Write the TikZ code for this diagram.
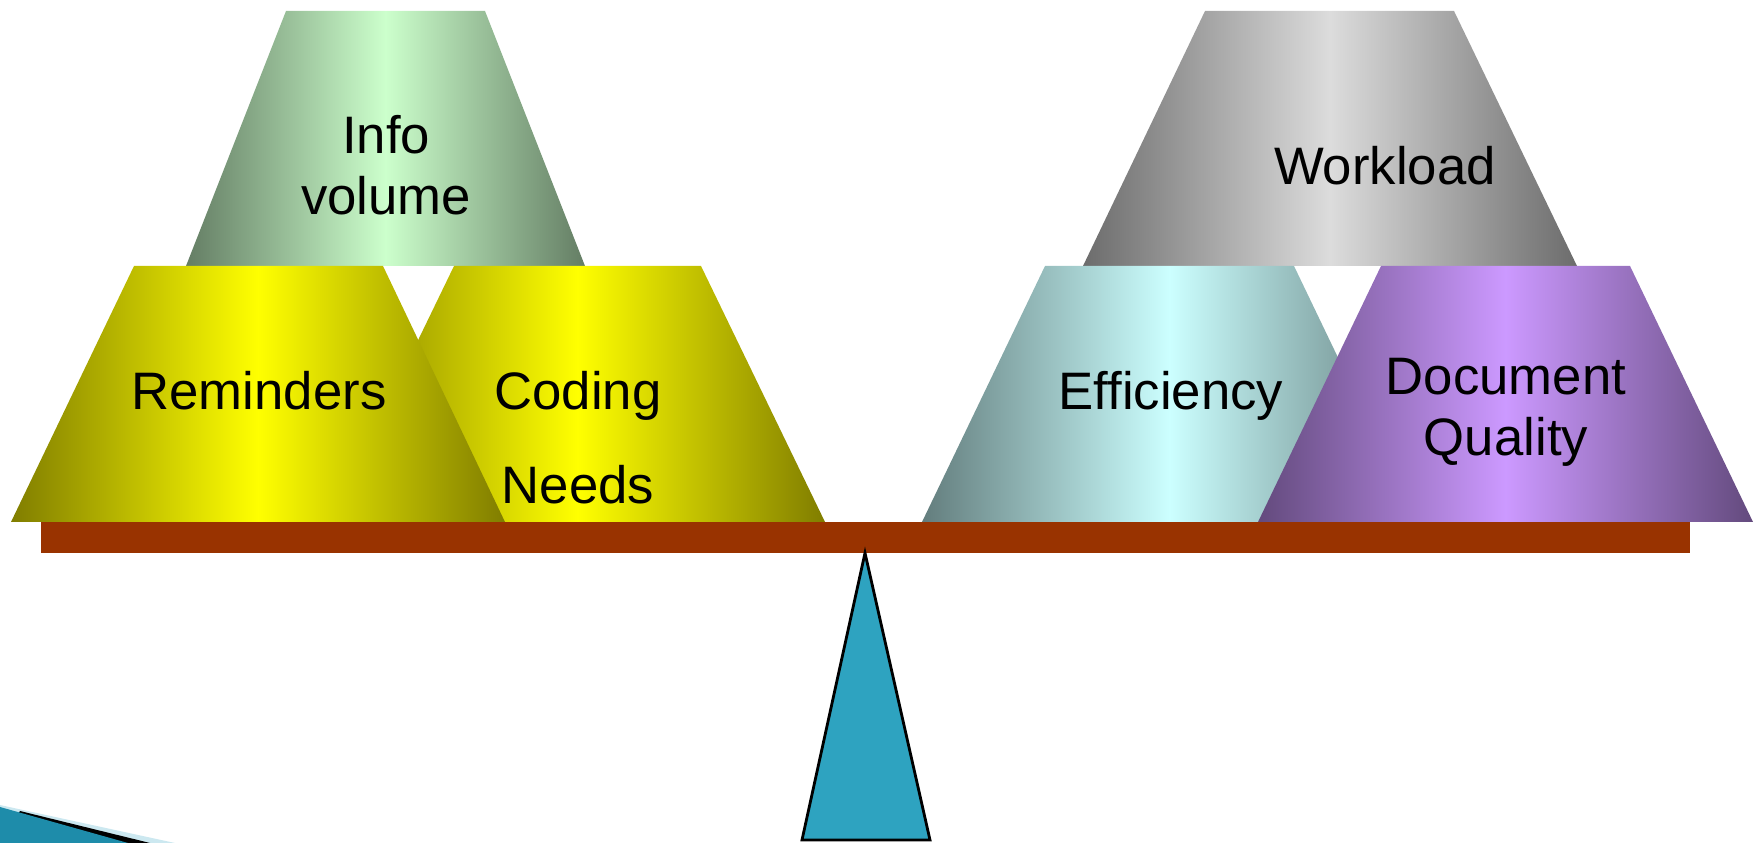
\documentclass[tikz,border=0pt]{standalone}
\usepackage{fontspec}
\setmainfont{Liberation Sans}
\usepackage{xcolor}

\definecolor{beam}{HTML}{993300}
\definecolor{pivot}{HTML}{2EA3C0}
\definecolor{greenlight}{HTML}{CCFFCC}
\definecolor{greendark}{HTML}{647D64}
\definecolor{yellowdark}{HTML}{807D00}
\definecolor{graylight}{HTML}{DCDCDC}
\definecolor{graydark}{HTML}{6C6C6C}
\definecolor{cyanlight}{HTML}{CCFFFF}
\definecolor{cyandark}{HTML}{637D7D}
\definecolor{purplelight}{HTML}{CC99FF}
\definecolor{purpledark}{HTML}{634A7D}
\definecolor{swoosh}{HTML}{1E8CAA}
\definecolor{swooshlight}{HTML}{CCE8F0}

\begin{document}
\begin{tikzpicture}[x=0.1mm, y=-0.1mm,
    lbl/.style={font=\fontsize{15}{17.6}\selectfont, align=center, inner sep=0pt, anchor=base}]
  \useasboundingbox (0,0) rectangle (1756,843);

  % Left pan weights
  \shade[left color=greendark, right color=greendark, middle color=greenlight]
    (286,11) -- (485,11) -- (585,266) -- (186,266) -- cycle;
  \shade[left color=yellowdark, right color=yellowdark, middle color=yellow]
    (454,266) -- (701,266) -- (825,522) -- (330,522) -- cycle;
  \shade[left color=yellowdark, right color=yellowdark, middle color=yellow]
    (134,266) -- (383,266) -- (505,522) -- (11,522) -- cycle;

  % Right pan weights
  \shade[left color=graydark, right color=graydark, middle color=graylight]
    (1205,11) -- (1454,11) -- (1577,266) -- (1083,266) -- cycle;
  \shade[left color=cyandark, right color=cyandark, middle color=cyanlight]
    (1045,266) -- (1294,266) -- (1417,522) -- (922,522) -- cycle;
  \shade[left color=purpledark, right color=purpledark, middle color=purplelight]
    (1381,266) -- (1630,266) -- (1753,522) -- (1258,522) -- cycle;

  % Labels (base = last line)
  \node[lbl] (info) at (386,215) {Info\\volume};
  \node[lbl] (reminders) at (259,410) {Reminders};
  \node[lbl] (coding) at (578,410) {Coding};
  \node[lbl] (needs) at (578,504) {Needs};
  \node[lbl] (workload) at (1385,185) {Workload};
  \node[lbl] (efficiency) at (1171,410) {Efficiency};
  \node[lbl] (quality) at (1506,456) {Document\\Quality};

  % Beam and pivot
  \fill[beam] (41,522) rectangle (1690,553);
  \draw[fill=pivot, line width=0.8pt, line join=miter] (865,553) -- (930,840) -- (802,840) -- cycle;

  % Corner swoosh
  \fill[swooshlight] (0,805) -- (175,843) -- (0,843) -- cycle;
  \fill[black] (20,811) -- (150,843) -- (0,843) -- cycle;
  \fill[swoosh] (0,807) -- (128,843) -- (0,843) -- cycle;
\end{tikzpicture}
\end{document}
